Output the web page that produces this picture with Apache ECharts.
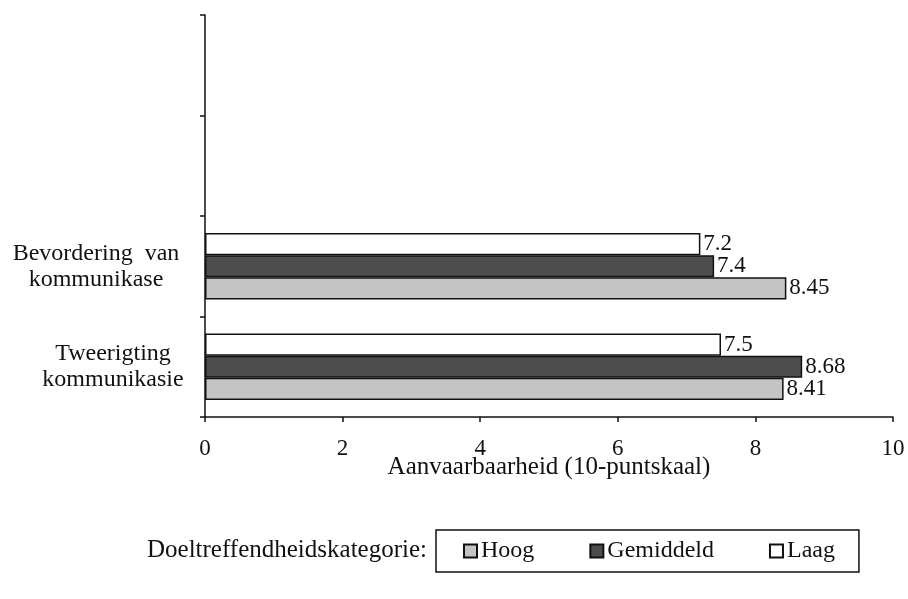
<!DOCTYPE html>
<html>
<head>
<meta charset="utf-8">
<script src="https://cdn.jsdelivr.net/npm/echarts@6/dist/echarts.min.js"></script>
<style>
html,body{margin:0;padding:0;background:#fff;}
#chart{width:908px;height:599px;}
</style>
</head>
<body>
<div id="chart"></div>
<script>
// Categories, bottom to top (two empty slots at the top)
const categories = ['Tweerigting\nkommunikasie', 'Bevordering  van\nkommunikase', '', ''];
const seriesNames = ['Hoog', 'Gemiddeld', 'Laag'];
const hoog = [8.41, 8.45, '-', '-'];
const gemiddeld = [8.68, 7.4, '-', '-'];
const laag = [7.5, 7.2, '-', '-'];
const xTicks = [0, 2, 4, 6, 8, 10];
const xAxisTitle = 'Aanvaarbaarheid (10-puntskaal)';
const legendTitle = 'Doeltreffendheidskategorie:';

const FONT = '"Liberation Serif", "Times New Roman", serif';
const colorMap = {Hoog: '#c4c4c4', Gemiddeld: '#4d4d4d', Laag: '#ffffff'};
const valueMap = {Hoog: hoog, Gemiddeld: gemiddeld, Laag: laag};

const chart = echarts.init(document.getElementById('chart'), null, {renderer: 'canvas'});

// ECharts stacks horizontal bars top-down in series order, so add Laag first
const drawOrder = seriesNames.slice().reverse();
const series = drawOrder.map(name => ({
  name: name,
  type: 'bar',
  data: valueMap[name],
  barGap: '0%',
  barCategoryGap: '34%',
  itemStyle: {color: colorMap[name], borderColor: '#111', borderWidth: 1.5},
  label: {
    show: true,
    position: 'right',
    distance: 3,
    color: '#111',
    fontFamily: FONT,
    fontSize: 23,
    formatter: p => String(p.value)
  }
}));

chart.setOption({
  backgroundColor: '#ffffff',
  animation: false,
  title: {
    text: legendTitle,
    left: 147,
    top: 538,
    padding: 0,
    textStyle: {fontFamily: FONT, fontSize: 25, fontWeight: 'normal', color: '#111'}
  },
  legend: {
    data: seriesNames,
    left: 436,
    top: 530,
    orient: 'horizontal',
    icon: 'rect',
    itemWidth: 13,
    itemHeight: 13,
    itemGap: 55,
    padding: [9, 24, 9, 27],
    borderColor: '#111',
    borderWidth: 1.5,
    textStyle: {fontFamily: FONT, fontSize: 24, color: '#111', padding: [0, 0, 0, -1]}
  },
  grid: {left: 205, right: 15, top: 15, bottom: 182, containLabel: false},
  xAxis: {
    type: 'value',
    min: 0,
    max: 10,
    interval: 2,
    name: xAxisTitle,
    nameLocation: 'middle',
    nameGap: 38,
    nameMoveOverlap: false,
    nameTextStyle: {fontFamily: FONT, fontSize: 25, color: '#111'},
    axisLine: {show: true, lineStyle: {color: '#111', width: 1.5}},
    axisTick: {show: true, length: 5, lineStyle: {color: '#111', width: 1.5}},
    axisLabel: {
      fontFamily: FONT, fontSize: 23, color: '#111', margin: 20,
      formatter: v => xTicks.includes(v) ? String(v) : ''
    },
    splitLine: {show: false}
  },
  yAxis: {
    type: 'category',
    data: categories,
    axisLine: {show: true, lineStyle: {color: '#111', width: 1.5}},
    axisTick: {show: true, length: 5, lineStyle: {color: '#111', width: 1.5}},
    axisLabel: {
      fontFamily: FONT, fontSize: 24, color: '#111', lineHeight: 26,
      align: 'center', margin: 109,
      formatter: (v, i) => {
        if (!v) return '';
        const tag = i === 0 ? 't' : 'b';
        return v.split('\n').map(l => '{' + tag + '|' + l + '}').join('\n');
      },
      rich: {
        t: {fontFamily: FONT, fontSize: 24, color: '#111', lineHeight: 26, padding: [0, 0, 0, 34]},
        b: {fontFamily: FONT, fontSize: 24, color: '#111', lineHeight: 26}
      }
    },
    splitLine: {show: false}
  },
  series: series
});
</script>
</body>
</html>
